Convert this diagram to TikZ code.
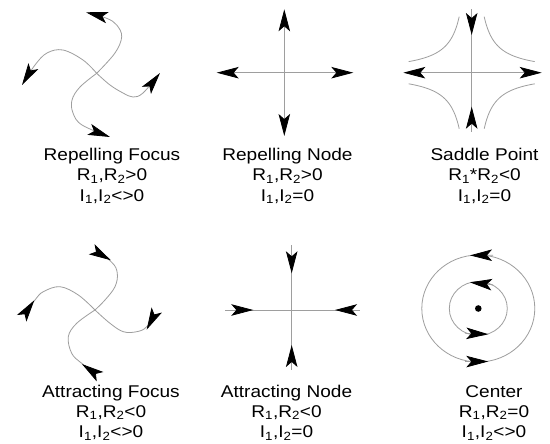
\documentclass[tikz,border=0pt]{standalone}
\usepackage{fontspec}
\setmainfont{Liberation Sans}[FakeStretch=1.12]
\usetikzlibrary{arrows.meta}

\newcommand\lowidx[1]{\textsubscript{#1}}
% three centred caption lines: name, x, baseline of first line, texts
\newcommand\tricap[6]{%
  \node[lbl] (#1-a) at (#2,#3) {#4};
  \node[lbl] (#1-b) at (#2,#3+20.3) {#5};
  \node[lbl] (#1-c) at (#2,#3+40.6) {#6};
}

\tikzset{
  flow/.style={draw=black!38, line width=0.8pt},
  lbl/.style={anchor=base, inner sep=0pt, font=\fontsize{17}{20}\selectfont},
  >={Stealth[length=22pt,width=11.5pt,inset=5pt,color=black]},
  inhead/.style={{Stealth[length=22pt,width=11.5pt,inset=5pt,color=black,reversed]}-}
}

\begin{document}
\begin{tikzpicture}[x=1pt,y=-1pt]
\useasboundingbox[fill=white] (0,0) rectangle (550,444);

% ---------- repelling focus ----------
\coordinate (rf) at (96.7,73.3);
\draw[flow,->] plot[smooth,tension=0.6] coordinates {(rf) (115,53) (121.7,36.7) (116.7,25) (106.7,18.3) (86,12.3)};
\draw[flow,->] plot[smooth,tension=0.6] coordinates {(rf) (110,85) (123,93) (133,97) (143,93) (160,73)};
\draw[flow,->] plot[smooth,tension=0.6] coordinates {(rf) (80,87) (72,100) (73,113) (82,125) (110,137)};
\draw[flow,->] plot[smooth,tension=0.6] coordinates {(rf) (83,60) (63,50) (47,53) (35,65) (22,85)};

% ---------- repelling node ----------
\coordinate (rnL) at (216.7,72.7);
\coordinate (rnR) at (353.3,72.7);
\coordinate (rnT) at (284.3,9.3);
\coordinate (rnB) at (284.3,136);
\draw[flow,<->] (rnL) -- (rnR);
\draw[flow,<->] (rnT) -- (rnB);

% ---------- saddle point ----------
\coordinate (spL) at (403.3,72.7);
\coordinate (spR) at (541.7,72.7);
\coordinate (spT) at (471.7,9.3);
\coordinate (spB) at (471.7,131.7);
\coordinate (spTi) at (471.7,35);
\coordinate (spBi) at (471.7,106.7);
\draw[flow,<->] (spL) -- (spR);
\draw[flow] (spT) -- (spB);
\draw[flow,->] (471.7,12) -- (spTi);
\draw[flow,->] (471.7,130) -- (spBi);
\draw[flow] plot[domain=12.5:63,samples=40,smooth] ({471.7-\x},{72.7-700/\x});
\draw[flow] plot[domain=12.5:63,samples=40,smooth] ({471.7+\x},{72.7-700/\x});
\draw[flow] plot[domain=12.5:63,samples=40,smooth] ({471.7-\x},{72.7+700/\x});
\draw[flow] plot[domain=12.5:63,samples=40,smooth] ({471.7+\x},{72.7+700/\x});

% ---------- attracting focus ----------
\coordinate (af) at (95,310);
\draw[flow,inhead] plot[smooth,tension=0.6] coordinates {(91.7,249.3) (111.7,262.3) (117.3,273.3) (115,286.7) (105,300) (af)};
\draw[flow,inhead] plot[smooth,tension=0.6] coordinates {(156.7,310) (146.7,326.7) (136.7,331.7) (123.3,331.7) (110,323.3) (af)};
\draw[flow,inhead] plot[smooth,tension=0.6] coordinates {(100,376.7) (81.7,363.3) (71.7,353.3) (68.3,336.7) (76.7,323.3) (af)};
\draw[flow,inhead] plot[smooth,tension=0.6] coordinates {(21.7,318.3) (35,300) (43.3,291.7) (60,286.7) (78.3,295) (af)};

% ---------- attracting node ----------
\coordinate (anL) at (225,310);
\coordinate (anR) at (360,310);
\coordinate (anT) at (291.7,245);
\coordinate (anB) at (291.7,370);
\draw[flow] (anL) -- (anR);
\draw[flow] (anT) -- (anB);
\draw[flow,->] (229,310) -- (253.3,310);
\draw[flow,->] (359,310) -- (335,310);
\draw[flow,->] (291.7,249) -- (291.7,273.3);
\draw[flow,->] (291.7,369) -- (291.7,345);

% ---------- center ----------
\coordinate (ce) at (478.3,308.5);
\draw[flow] (ce) ellipse [x radius=56.5, y radius=53.5];
\draw[flow] (ce) ellipse [x radius=29, y radius=27];
\fill (ce) circle (3.3);
\draw[flow,->] (493,255.2) -- (470,255.4);
\draw[flow,->] (465,361.6) -- (488.3,361.5);
\draw[flow,->] (493,284.8) -- (470,282.4);
\draw[flow,->] (465,333.3) -- (488.3,334.2);

% ---------- captions ----------
\tricap{rfc}{112}{160.5}{Repelling Focus}{R\lowidx{1},R\lowidx{2}>0}{I\lowidx{1},I\lowidx{2}<>0}
\tricap{rnc}{287.5}{160.5}{Repelling Node}{R\lowidx{1},R\lowidx{2}>0}{I\lowidx{1},I\lowidx{2}=0}
\tricap{spc}{484.5}{160.5}{Saddle Point}{R\lowidx{1}*R\lowidx{2}<0}{I\lowidx{1},I\lowidx{2}=0}
\tricap{afc}{111}{397}{Attracting Focus}{R\lowidx{1},R\lowidx{2}<0}{I\lowidx{1},I\lowidx{2}<>0}
\tricap{anc}{286.5}{397}{Attracting Node}{R\lowidx{1},R\lowidx{2}<0}{I\lowidx{1},I\lowidx{2}=0}
\tricap{cec}{494}{397}{Center}{R\lowidx{1},R\lowidx{2}=0}{I\lowidx{1},I\lowidx{2}<>0}
\end{tikzpicture}
\end{document}
